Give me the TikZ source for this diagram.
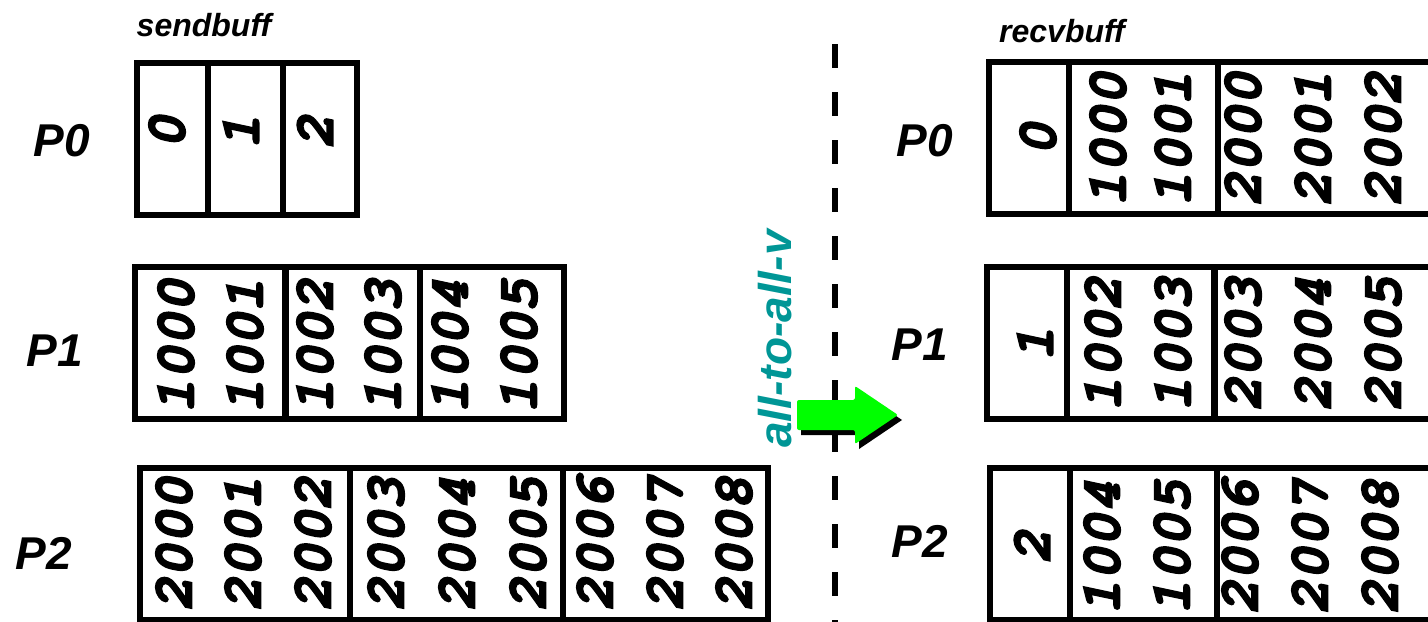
\documentclass[tikz,border=0pt]{standalone}
\usepackage{fontspec}
\setmainfont{Liberation Sans}
\newfontfamily\numfam{TeX Gyre Cursor}[FakeBold=3]
\definecolor{tealtext}{RGB}{0,150,150}
\definecolor{arrowgreen}{RGB}{0,255,0}

\begin{document}
\begin{tikzpicture}[x=0.5pt, y=-0.5pt,
  cell/.style={draw, line width=3pt, inner sep=0pt, minimum height=76pt},
  num/.style={font=\numfam\bfseries\itshape\fontsize{28}{28}\selectfont, rotate=90, inner sep=0pt},
  proc/.style={font=\bfseries\itshape\fontsize{23}{23}\selectfont, inner sep=0pt},
  bufname/.style={font=\bfseries\itshape\fontsize{16}{16}\selectfont, inner sep=0pt}]
  \clip (0,0) rectangle (1428,621);

  \node[bufname] (sendbuff) at (204,25) {sendbuff};
  \node[bufname] (recvbuff) at (1062,31) {recvbuff};

  \node[proc] (sp0) at (62,141) {P0};
  \node[proc] (sp1) at (55,351) {P1};
  \node[proc] (sp2) at (44,553) {P2};
  \node[proc] (rp0) at (925,141) {P0};
  \node[proc] (rp1) at (920,345) {P1};
  \node[proc] (rp2) at (920,541) {P2};

  \node[cell, minimum width=35.5pt] (s0a) at (172,139) {};
  \node[cell, minimum width=37.5pt] (s0b) at (245,139) {};
  \node[cell, minimum width=37.25pt] (s0c) at (320,139) {};
  \node[cell, minimum width=75pt] (s1a) at (210,343) {};
  \node[cell, minimum width=67pt] (s1b) at (352.5,343) {};
  \node[cell, minimum width=72pt] (s1c) at (491.5,343) {};
  \node[cell, minimum width=105pt] (s2a) at (245,544) {};
  \node[cell, minimum width=106.5pt] (s2b) at (456.5,544) {};
  \node[cell, minimum width=102.5pt] (s2c) at (665.5,544) {};

  \node[cell, minimum width=40pt] (r0a) at (1028.5,137.5) {};
  \node[cell, minimum width=74.5pt] (r0b) at (1143,137.5) {};
  \node[cell, minimum width=121pt] (r0c) at (1338.5,137.5) {};
  \node[cell, minimum width=40pt] (r1a) at (1026.5,343) {};
  \node[cell, minimum width=74pt] (r1b) at (1140.5,343) {};
  \node[cell, minimum width=123pt] (r1c) at (1337,343) {};
  \node[cell, minimum width=40pt] (r2a) at (1029.5,544) {};
  \node[cell, minimum width=73.5pt] (r2b) at (1143,544) {};
  \node[cell, minimum width=122pt] (r2c) at (1338.5,544) {};

  \foreach \x/\t in {167/0, 241/1, 315/2}
    \node[num] (s0-\t) at (\x,132) {\t};
  \foreach \x/\t in {176/1000, 245/1001, 315/1002, 383/1003, 450/1004, 519/1005}
    \node[num] (s1-\t) at (\x,346) {\t};
  \foreach \x/\t in {174/2000, 243/2001, 313/2002, 386/2003, 457/2004, 528/2005, 595/2006, 665/2007, 734/2008}
    \node[num] (s2-\t) at (\x,544) {\t};
  \foreach \x/\t in {1038/0, 1108/1000, 1173/1001, 1243/2000, 1313/2001, 1383/2002}
    \node[num] (r0-\t) at (\x,139) {\t};
  \foreach \x/\t in {1035/1, 1103/1002, 1173/1003, 1243/2003, 1313/2004, 1383/2005}
    \node[num] (r1-\t) at (\x,344) {\t};
  \foreach \x/\t in {1032/2, 1102/1004, 1172/1005, 1240/2006, 1310/2007, 1380/2008}
    \node[num] (r2-\t) at (\x,547) {\t};

  \coordinate (cuttop) at (835,44);
  \coordinate (cutbot) at (835,640);
  \draw[line width=3pt, dash pattern=on 12pt off 12pt] (cuttop) -- (cutbot);

  \node[font=\bfseries\itshape\fontsize{23}{23}\selectfont, text=tealtext, rotate=90, inner sep=0pt] (a2av) at (775,339) {all-to-all-v};

  \fill[black, shift={(4,5)}] (797,400) -- (855,400) -- (855,386) -- (898,415) -- (855,444) -- (855,430) -- (797,430) -- cycle;
  \fill[arrowgreen, rounded corners=1pt] (797,400) -- (855,400) -- (855,386) -- (898,415) -- (855,444) -- (855,430) -- (797,430) -- cycle;
\end{tikzpicture}
\end{document}
